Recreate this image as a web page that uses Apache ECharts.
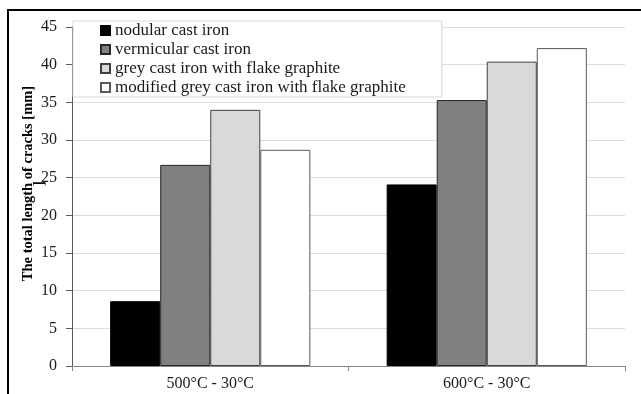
<!DOCTYPE html>
<html>
<head>
<meta charset="utf-8">
<script src="https://cdn.jsdelivr.net/npm/echarts@6/dist/echarts.min.js"></script>
<style>
html,body{margin:0;padding:0;background:#fff;}
#chart{width:641px;height:394px;}
</style>
</head>
<body>
<div id="chart"></div>
<script>
const categories = ['500°C - 30°C', '600°C - 30°C'];
const seriesNames = ['nodular cast iron', 'vermicular cast iron', 'grey cast iron with flake graphite', 'modified grey cast iron with flake graphite'];
const nodular = [8.6, 24.1];
const vermicular = [26.7, 35.3];
const greyFlake = [34.0, 40.4];
const modifiedGreyFlake = [28.7, 42.2];
const yTicks = [0, 5, 10, 15, 20, 25, 30, 35, 40, 45];

const seriesValues = [nodular, vermicular, greyFlake, modifiedGreyFlake];
const fills = ['#000000', '#808080', '#d9d9d9', '#ffffff'];
const borders = ['#000000', '#262626', '#404040', '#595959'];
const FONT = '"Liberation Serif", "Times New Roman", serif';

const chart = echarts.init(document.getElementById('chart'), null, {renderer: 'canvas'});
chart.setOption({
  animation: false,
  backgroundColor: '#ffffff',
  textStyle: {fontFamily: FONT},
  grid: {left: 72, right: 16, top: 27, bottom: 28, containLabel: false, outerBoundsMode: 'none'},
  legend: {
    left: 73, top: 21,
    orient: 'vertical',
    padding: [1, 36, 1, 27],
    itemWidth: 9, itemHeight: 9,
    itemGap: 2,
    icon: 'rect',
    backgroundColor: '#ffffff',
    borderColor: '#d9d9d9',
    borderWidth: 1,
    textStyle: {fontFamily: FONT, fontSize: 17, color: '#1a1a1a', lineHeight: 17},
    data: seriesNames
  },
  xAxis: {
    type: 'category',
    data: categories,
    axisLine: {lineStyle: {color: '#868686', width: 1}},
    axisTick: {show: true, alignWithLabel: false, length: 5, lineStyle: {color: '#868686'}},
    axisLabel: {fontFamily: FONT, fontSize: 16, color: '#1a1a1a', margin: 10},
    splitLine: {show: false}
  },
  yAxis: {
    type: 'value',
    min: yTicks[0], max: yTicks[yTicks.length - 1], interval: 5,
    name: 'The total length of cracks [mm]\n]',
    nameLocation: 'middle',
    nameGap: 27,
    nameMoveOverlap: false,
    nameTextStyle: {fontFamily: FONT, fontSize: 14.5, fontWeight: 'bold', color: '#000', lineHeight: 11, padding: [0, 0, 0, 26]},
    axisLine: {show: true, lineStyle: {color: '#595959', width: 1}},
    axisTick: {show: true, length: 6, lineStyle: {color: '#595959'}},
    axisLabel: {fontFamily: FONT, fontSize: 16, color: '#1a1a1a', margin: 15},
    splitLine: {show: true, lineStyle: {color: '#dcdcdc', width: 1}}
  },
  series: seriesValues.map((vals, i) => ({
    name: seriesNames[i],
    type: 'bar',
    data: vals,
    barGap: '0%',
    barCategoryGap: '27.6%',
    itemStyle: {color: fills[i], borderColor: borders[i], borderWidth: 1}
  })),
  graphic: [{
    type: 'rect',
    shape: {x: 8, y: 10, width: 700, height: 500},
    style: {fill: 'none', stroke: '#000', lineWidth: 2},
    silent: true
  }]
});
</script>
</body>
</html>
